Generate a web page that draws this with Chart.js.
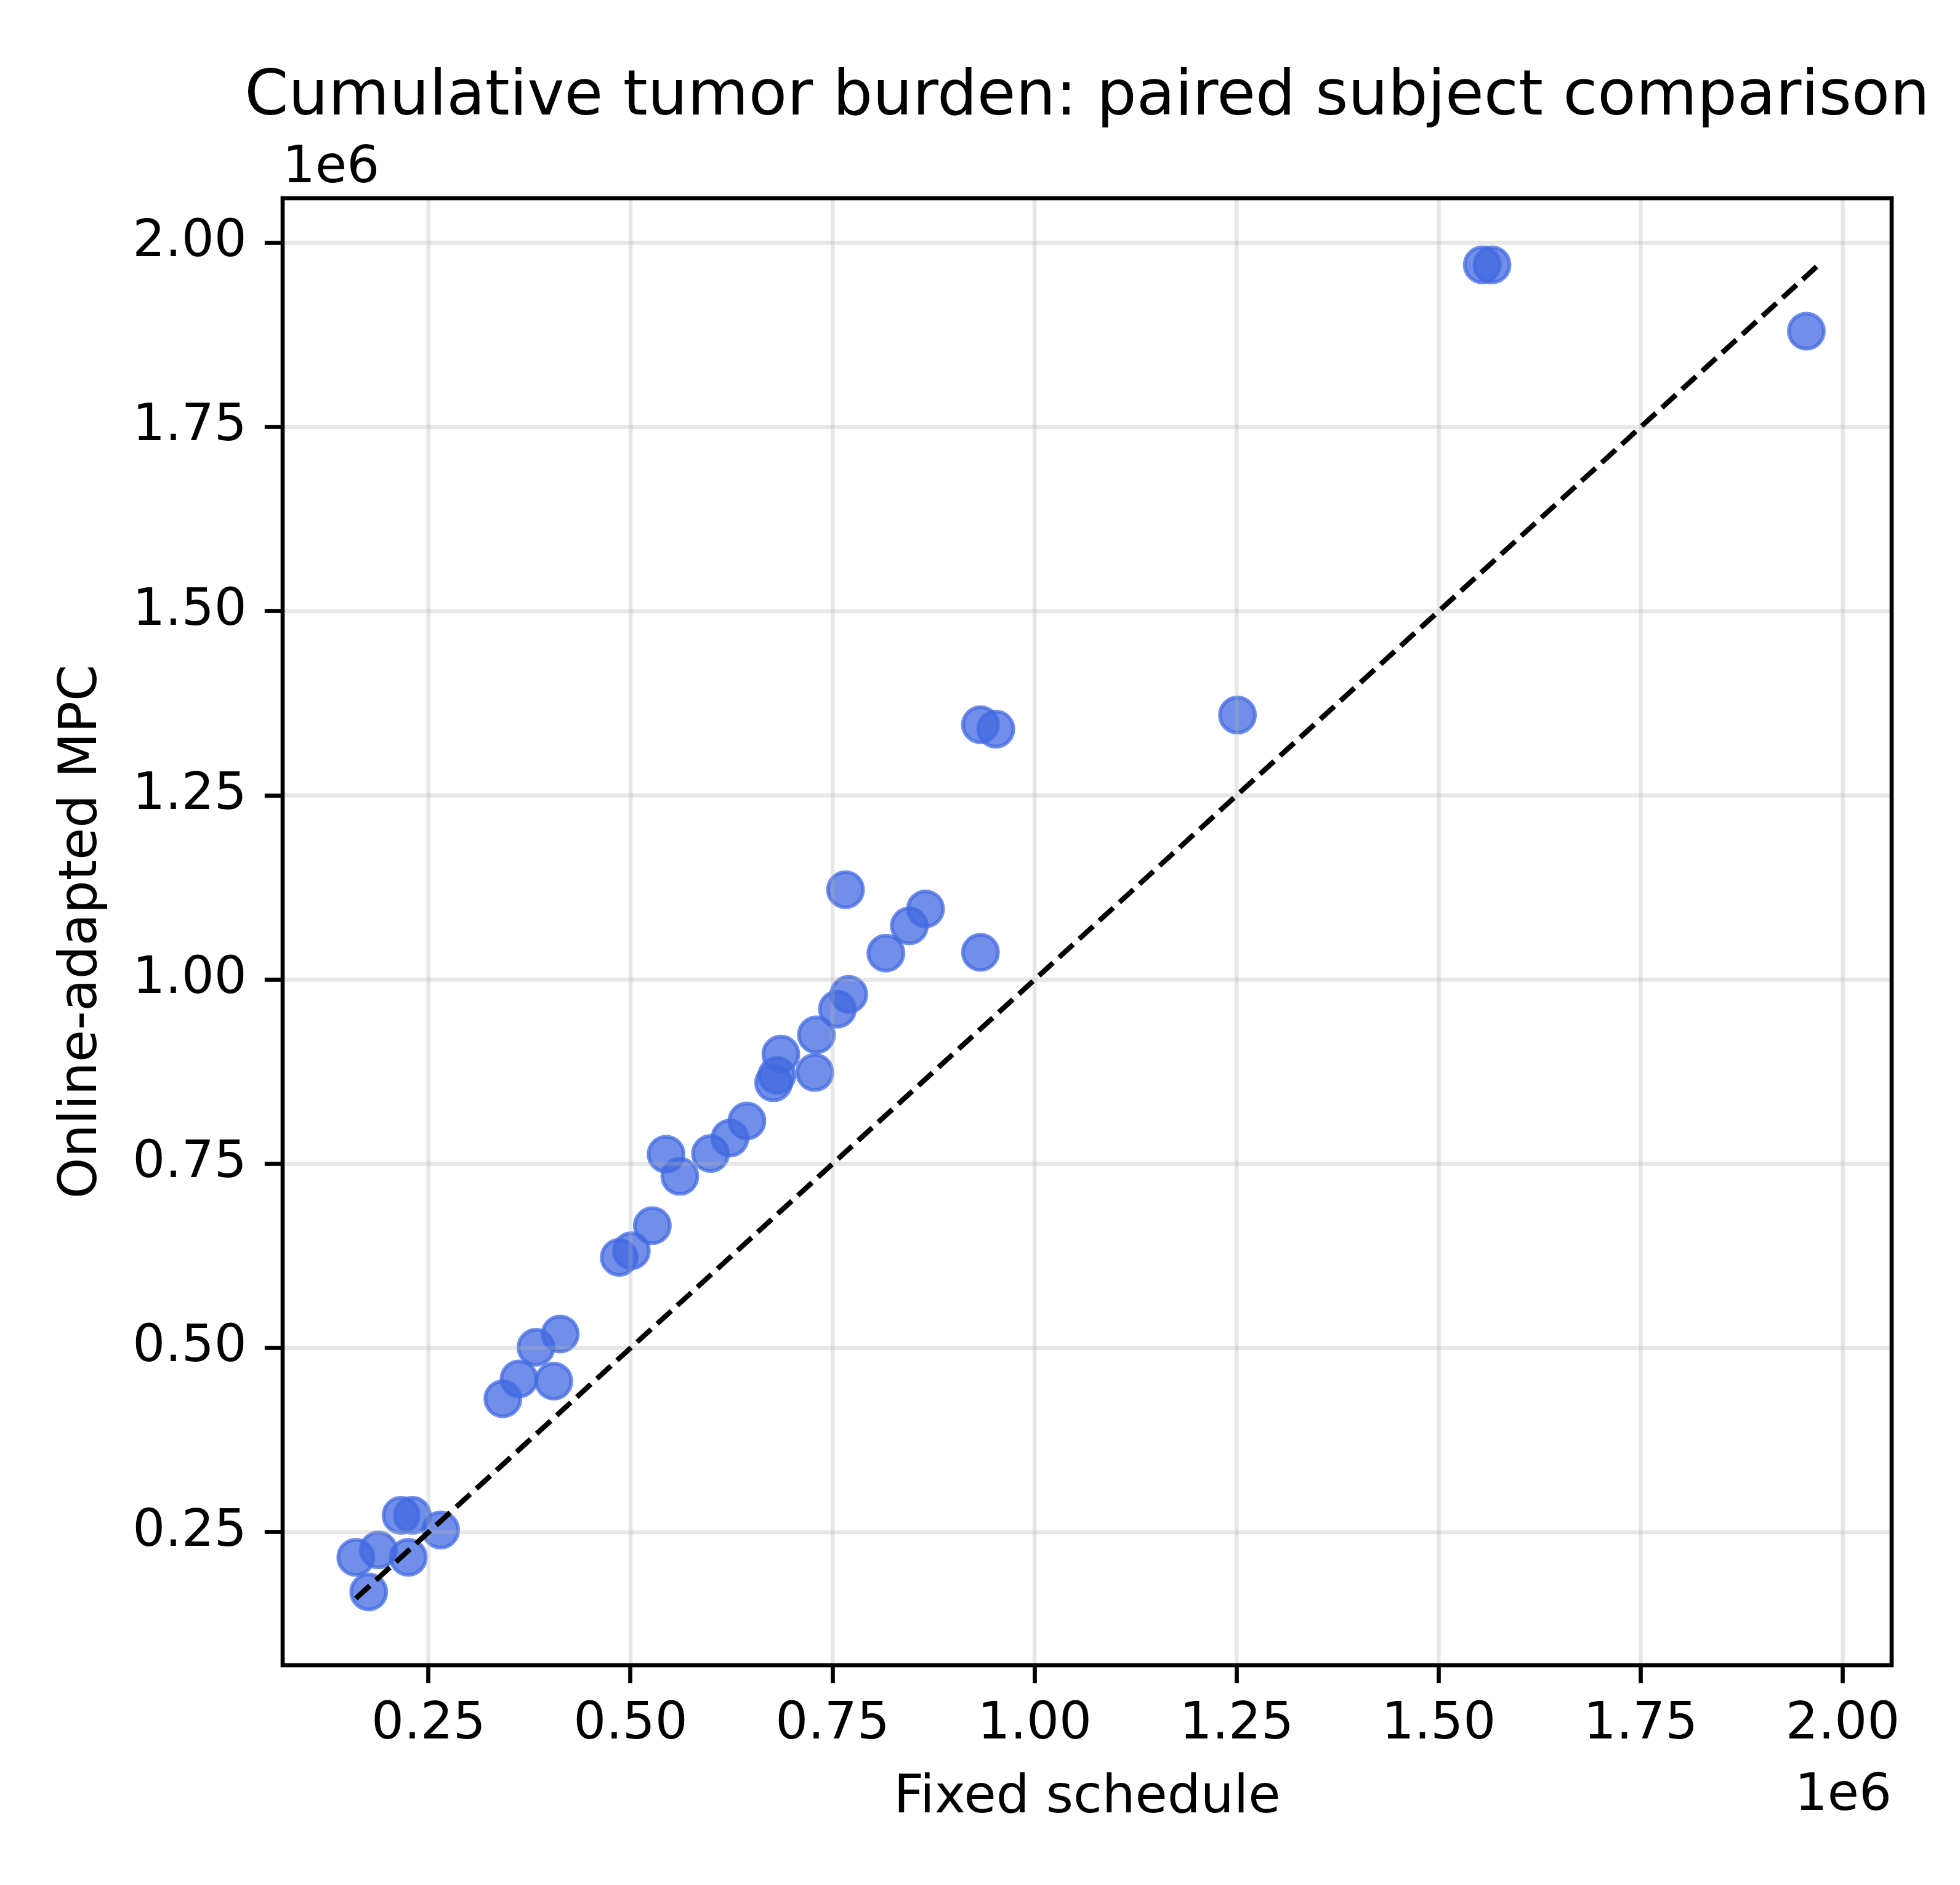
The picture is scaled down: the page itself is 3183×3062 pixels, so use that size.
<!DOCTYPE html>
<html>
<head>
<meta charset="utf-8">
<title>Cumulative tumor burden</title>
<script src="https://cdn.jsdelivr.net/npm/chart.js@4.4.0/dist/chart.umd.min.js"></script>
<style>
  html, body { margin: 0; padding: 0; background: #fff; }
  #wrap { width: 3183px; height: 3062px; }
</style>
</head>
<body>
<div id="wrap"><canvas id="myChart" width="3183" height="3062"></canvas></div>
<script>
// 被験者ごとの累積腫瘍量 (固定スケジュール vs オンライン適応MPC)
const fixedSchedule = [
    160000, 188000, 176000, 216000, 230000, 225000, 265000, 342000, 362000, 405000,
    383000, 413000, 486000, 501000, 527000, 544000, 561000, 599000, 623000, 644000,
    677000, 681000, 686000, 728000, 730000, 756000, 770000, 816000, 766000, 845000,
    865000, 933000, 933000, 952000, 1251000, 1554000, 1566000, 1955000
];
const onlineMPC = [
    216000, 226000, 169000, 273000, 273000, 216000, 253000, 431000, 458000, 455000,
    501000, 519000, 623000, 632000, 666000, 763000, 733000, 764000, 785000, 808000,
    860000, 870000, 899000, 874000, 925000, 960000, 980000, 1036000, 1122000, 1073000,
    1096000, 1037000, 1346000, 1340000, 1359000, 1970000, 1970000, 1880000
];
const xTicks = [250000, 500000, 750000, 1000000, 1250000, 1500000, 1750000, 2000000];
const yTicks = [250000, 500000, 750000, 1000000, 1250000, 1500000, 1750000, 2000000];
const chartTitle = 'Cumulative tumor burden: paired subject comparison';

const PT = 600 / 72; // 1pt をピクセルに

// y = x の参照線はデータの最小値から最大値まで
const allValues = fixedSchedule.concat(onlineMPC);
const lo = Math.min(...allValues);
const hi = Math.max(...allValues);
const margin = (hi - lo) * 0.05;

Chart.defaults.font.family = "'DejaVu Sans', sans-serif";
Chart.defaults.color = '#000';

// グリッド線(散布図の上・破線の下)、枠線、タイトル、オフセット表記を描くプラグイン
const paperPlugin = {
    id: 'paper',
    beforeDatasetDraw(chart, args) {
        if (args.index !== 0) return;
        const { ctx, chartArea: a, scales: { x, y } } = chart;
        ctx.save();
        ctx.strokeStyle = 'rgba(176,176,176,0.3)';
        ctx.lineWidth = 0.8 * PT;
        x.ticks.forEach(t => {
            const px = x.getPixelForValue(t.value);
            ctx.beginPath();
            ctx.moveTo(px, a.top);
            ctx.lineTo(px, a.bottom);
            ctx.stroke();
        });
        y.ticks.forEach(t => {
            const py = y.getPixelForValue(t.value);
            ctx.beginPath();
            ctx.moveTo(a.left, py);
            ctx.lineTo(a.right, py);
            ctx.stroke();
        });
        ctx.restore();
    },
    afterDraw(chart) {
        const { ctx, chartArea: a } = chart;
        ctx.save();
        ctx.strokeStyle = '#000';
        ctx.lineWidth = 0.8 * PT;
        ctx.strokeRect(a.left, a.top, a.right - a.left, a.bottom - a.top);
        ctx.fillStyle = '#000';
        ctx.textBaseline = 'alphabetic';
        // タイトルは軸の中央に(幅の縮小なし)
        ctx.font = "102px 'DejaVu Sans'";
        ctx.textAlign = 'center';
        ctx.fillText(chartTitle, (a.left + a.right) / 2, 186);
        ctx.font = (10 * PT) + "px 'DejaVu Sans'";
        ctx.textAlign = 'left';
        ctx.fillText('1e6', a.left, 296);
        ctx.textAlign = 'right';
        ctx.fillText('1e6', a.right, 2940);
        ctx.restore();
    }
};

const points = fixedSchedule.map((v, i) => ({ x: v, y: onlineMPC[i] }));

const fmt = v => (v / 1e6).toFixed(2);

const ctx = document.getElementById('myChart').getContext('2d');
const myChart = new Chart(ctx, {
    type: 'scatter',
    data: {
        datasets: [
            {
                // 先頭のデータセットが最後(最前面)に描かれる
                label: 'y = x',
                data: [{ x: lo, y: lo }, { x: hi, y: hi }],
                showLine: true,
                borderColor: '#000',
                borderWidth: 1.0 * PT,
                borderDash: [3.7 * PT, 1.6 * PT],
                pointRadius: 0,
                fill: false
            },
            {
                label: 'subjects',
                data: points,
                backgroundColor: 'rgba(65,105,225,0.75)',
                borderColor: 'rgba(65,105,225,0.75)',
                borderWidth: 6,
                pointRadius: 28.5
            }
        ]
    },
    options: {
        responsive: false,
        devicePixelRatio: 1,
        animation: false,
        events: [],
        layout: { padding: { left: 0, top: 322, right: 111, bottom: 0 } },
        plugins: {
            legend: { display: false },
            tooltip: { enabled: false },
            title: { display: false }
        },
        scales: {
            x: {
                type: 'linear',
                position: 'bottom',
                bounds: 'data',
                min: lo - margin,
                max: hi + margin,
                afterBuildTicks: scale => { scale.ticks = xTicks.map(v => ({ value: v })); },
                afterFit: scale => { scale.height = 357; },
                border: { display: false },
                grid: {
                    drawOnChartArea: false,
                    drawTicks: true,
                    tickLength: 3.5 * PT,
                    tickColor: '#000',
                    tickWidth: 0.8 * PT
                },
                ticks: {
                    callback: v => fmt(v),
                    font: { size: 10 * PT },
                    color: '#000',
                    padding: 18,
                    maxRotation: 0,
                    autoSkip: false
                },
                title: {
                    display: true,
                    text: 'Fixed schedule',
                    color: '#000',
                    font: { size: 85 },
                    padding: { top: 0, bottom: 89 }
                }
            },
            y: {
                type: 'linear',
                position: 'left',
                bounds: 'data',
                min: lo - margin,
                max: hi + margin,
                afterBuildTicks: scale => { scale.ticks = yTicks.map(v => ({ value: v })); },
                afterFit: scale => { scale.width = 459; },
                border: { display: false },
                grid: {
                    drawOnChartArea: false,
                    drawTicks: true,
                    tickLength: 3.5 * PT,
                    tickColor: '#000',
                    tickWidth: 0.8 * PT
                },
                ticks: {
                    callback: v => fmt(v),
                    font: { size: 10 * PT },
                    color: '#000',
                    padding: 3.5 * PT,
                    autoSkip: false
                },
                title: {
                    display: true,
                    text: 'Online-adapted MPC',
                    color: '#000',
                    font: { size: 85 },
                    padding: { top: 83, bottom: 0 }
                }
            }
        }
    },
    plugins: [paperPlugin]
});
</script>
</body>
</html>
